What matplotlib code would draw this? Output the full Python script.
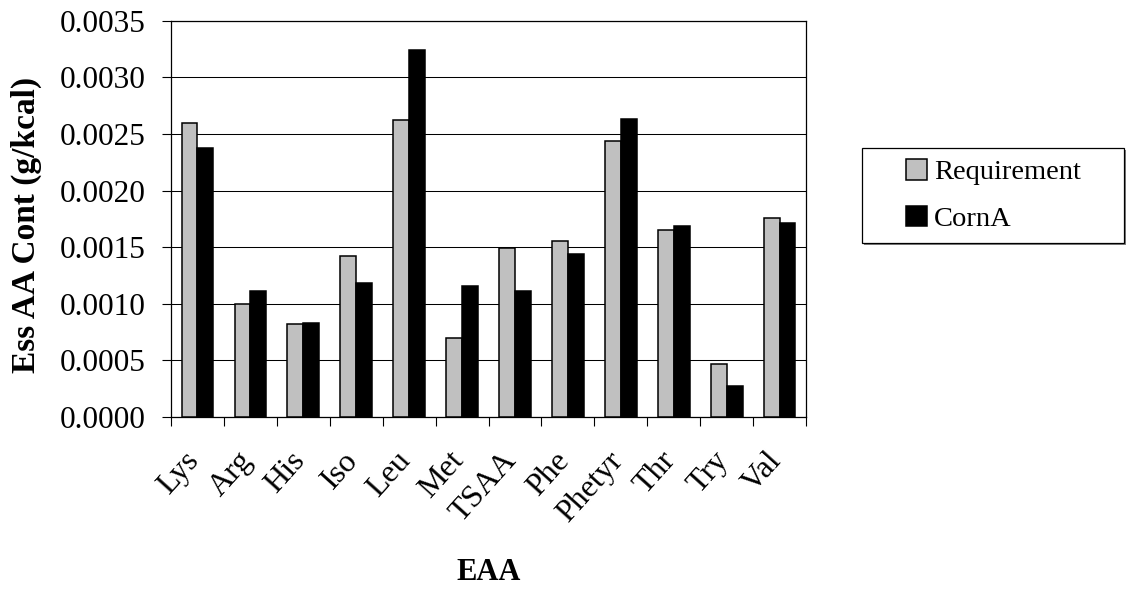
import matplotlib
matplotlib.use("Agg")
import matplotlib.pyplot as plt
from matplotlib.patches import Rectangle
from matplotlib.ticker import MultipleLocator, FormatStrFormatter
from matplotlib.transforms import ScaledTranslation
import numpy as np

plt.rcParams['font.family'] = ['Liberation Serif', 'DejaVu Serif']

amino_acids = ["Lys", "Arg", "His", "Iso", "Leu", "Met", "TSAA", "Phe",
               "Phetyr", "Thr", "Try", "Val"]
requirement = [0.00260, 0.00100, 0.00082, 0.00142, 0.00262, 0.00070,
               0.00149, 0.00155, 0.00244, 0.00165, 0.00047, 0.00176]
corn_a = [0.00238, 0.00111, 0.00083, 0.00118, 0.00324, 0.00116,
          0.00111, 0.00144, 0.00263, 0.00169, 0.00027, 0.00171]
series_names = ["Requirement", "CornA"]

W, H = 1128, 590
fig = plt.figure(figsize=(W / 100, H / 100), dpi=100)
fig.patch.set_facecolor("white")

left, right, top, bottom = 171, 806, 20.7, 417
ax = fig.add_axes([left / W, 1 - bottom / H, (right - left) / W, (bottom - top) / H])

x = np.arange(len(amino_acids))
bw = 0.30
b1 = ax.bar(x - bw / 2, requirement, width=bw, color="#C0C0C0",
            edgecolor="black", linewidth=1.1, label=series_names[0], zorder=3)
b2 = ax.bar(x + bw / 2, corn_a, width=bw, color="black",
            edgecolor="black", linewidth=1.1, label=series_names[1], zorder=3)

ax.set_xlim(-0.5, len(amino_acids) - 0.5)
ax.set_ylim(0, 0.0035)
ax.yaxis.set_major_locator(MultipleLocator(0.0005))
ax.yaxis.set_major_formatter(FormatStrFormatter("%.4f"))
ax.grid(axis="y", color="black", linewidth=0.75, zorder=0)
ax.set_axisbelow(True)

# category labels centred under each group, tick marks on the boundaries
ax.set_xticks(x)
ax.set_xticklabels(amino_acids, rotation=48, ha="right", va="center",
                   rotation_mode="anchor", fontsize=23)
ax.tick_params(axis="x", which="major", length=0, pad=28)
shift = ScaledTranslation(-3 / 100, 0, fig.dpi_scale_trans)
for lab in ax.get_xticklabels():
    lab.set_transform(lab.get_transform() + shift)
ax.set_xticks(np.arange(-0.5, len(amino_acids)), minor=True)
ax.tick_params(axis="x", which="minor", direction="out", length=6.5,
               width=0.8, color="black")
ax.tick_params(axis="y", direction="out", length=6.5, width=0.8,
               labelsize=22.5, pad=12)

for s in ax.spines.values():
    s.set_color("black")
    s.set_linewidth(0.9)

ax.set_ylabel("Ess AA Cont (g/kcal)", fontsize=24, fontweight="bold")
ax.yaxis.set_label_coords(-0.203, 0.485)
ax.set_xlabel("EAA", fontsize=22, fontweight="bold", va="center")
ax.xaxis.set_label_coords(0.5, -0.392)

# legend box with a drop shadow
lx, ly, lw_, lh = 862, 148, 262, 95
fig.patches.append(Rectangle(((lx + 2) / W, 1 - (ly + lh + 2) / H), lw_ / W, lh / H,
                             transform=fig.transFigure, facecolor="#808080",
                             edgecolor="none", zorder=1))
fig.patches.append(Rectangle((lx / W, 1 - (ly + lh) / H), lw_ / W, lh / H,
                             transform=fig.transFigure, facecolor="white",
                             edgecolor="black", linewidth=0.9, zorder=2))
leg = fig.legend(handles=[b1, b2], labels=series_names, loc="center left",
                 bbox_to_anchor=(906 / W, 1 - 195.5 / H), frameon=False,
                 fontsize=20.5, handlelength=0.74, handleheight=0.74,
                 handletextpad=0.25, labelspacing=0.72, borderpad=0,
                 borderaxespad=0)
leg.set_zorder(3)

fig.savefig("out.png", dpi=100, facecolor="white")
